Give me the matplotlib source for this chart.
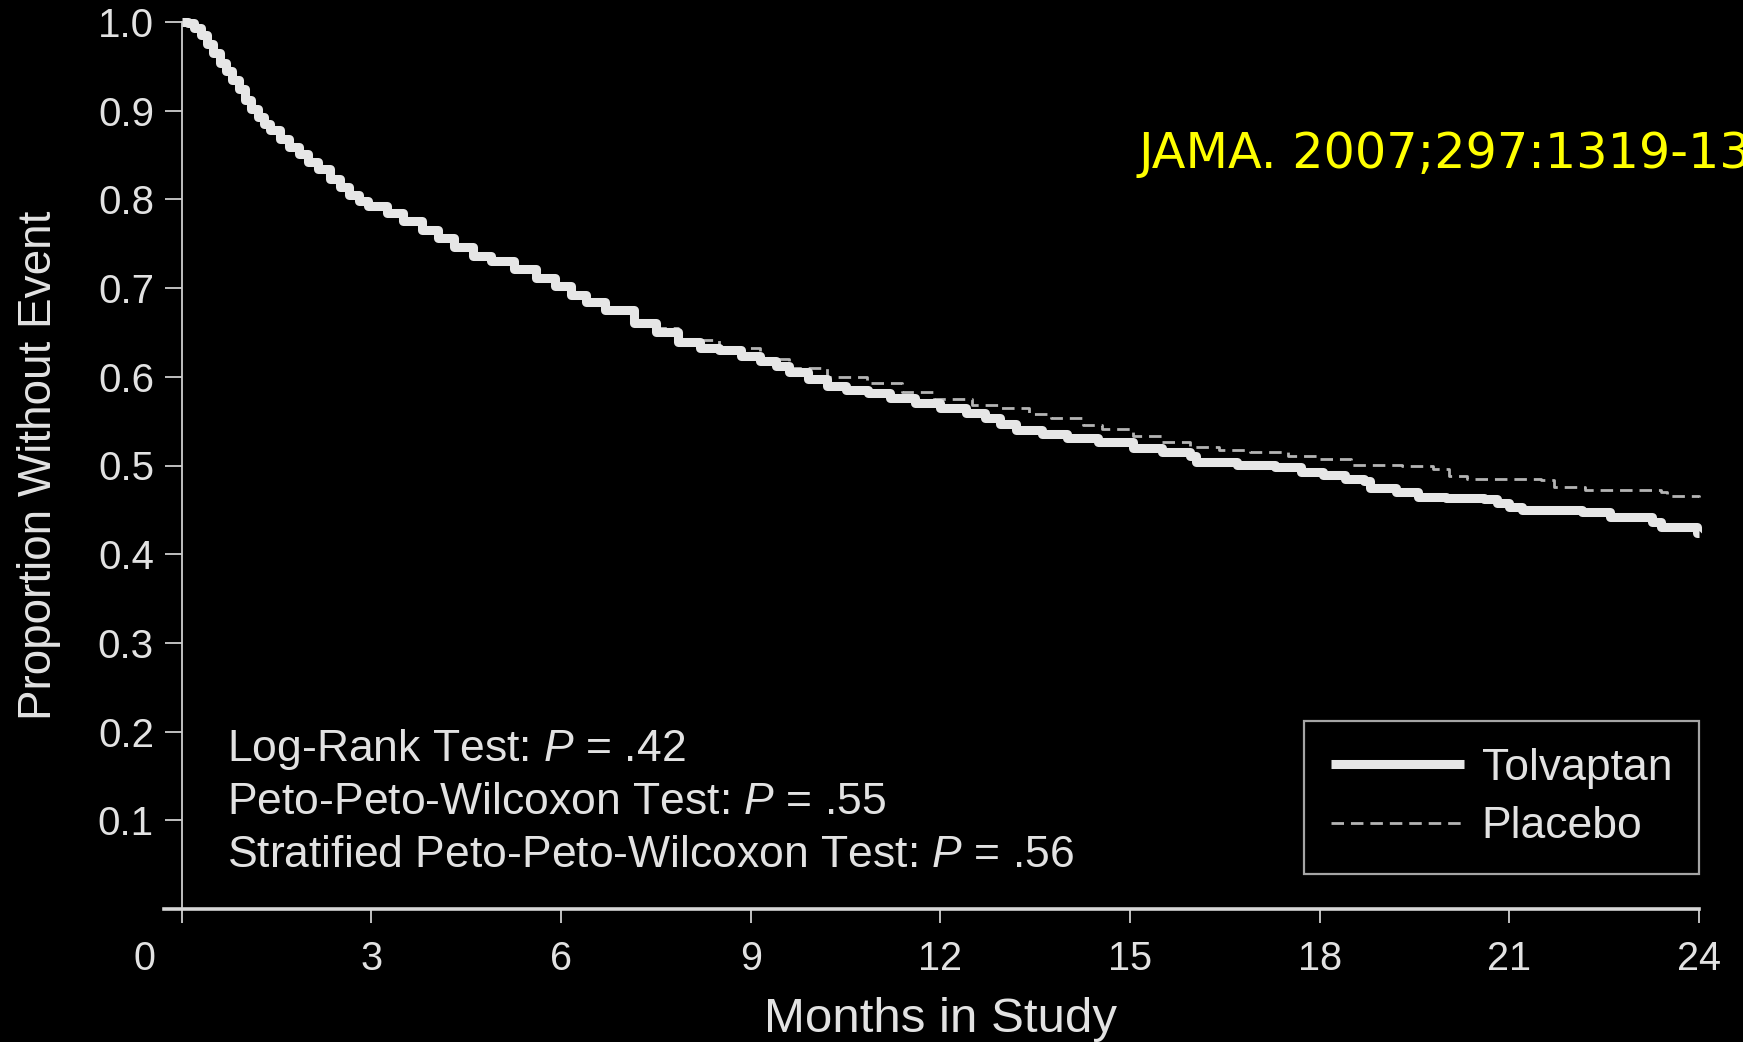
import matplotlib
matplotlib.use("Agg")
import matplotlib.pyplot as plt
import matplotlib.transforms as mtransforms

# ---- Kaplan-Meier estimates (months, proportion without event)
tolvaptan_months = [
    0.00, 0.10, 0.20, 0.30, 0.40, 0.50, 0.60, 0.70, 0.80, 0.90, 1.00, 1.10,
    1.20, 1.30, 1.40, 1.55, 1.70, 1.85, 2.00, 2.15, 2.35, 2.50, 2.65, 2.80,
    2.95, 3.25, 3.50, 3.80, 4.05, 4.30, 4.60, 4.90, 5.25, 5.60, 5.90, 6.15,
    6.40, 6.70, 7.15, 7.50, 7.85, 8.20, 8.50, 8.85, 9.15, 9.40, 9.60, 9.90,
    10.20, 10.50, 10.85, 11.20, 11.60, 12.00, 12.40, 12.70, 12.95, 13.20,
    13.60, 14.00, 14.50, 15.05, 15.50, 15.95, 16.05, 16.70, 17.30, 17.70,
    18.05, 18.40, 18.70, 18.80, 19.20, 19.55, 20.00, 20.60, 20.80, 21.00,
    21.20, 22.15, 22.60, 23.25, 23.40, 23.97, 24.00,
]
tolvaptan_surv = [
    1.000, 0.999, 0.993, 0.985, 0.975, 0.965, 0.954, 0.945, 0.935, 0.925, 0.912, 0.902,
    0.893, 0.885, 0.878, 0.868, 0.859, 0.851, 0.842, 0.834, 0.823, 0.814, 0.805, 0.798,
    0.792, 0.785, 0.776, 0.765, 0.756, 0.746, 0.736, 0.731, 0.722, 0.711, 0.702, 0.692,
    0.684, 0.675, 0.661, 0.650, 0.639, 0.633, 0.630, 0.624, 0.618, 0.612, 0.605, 0.597,
    0.590, 0.585, 0.582, 0.576, 0.570, 0.565, 0.559, 0.553, 0.547, 0.540,
    0.535, 0.531, 0.526, 0.520, 0.515, 0.511, 0.504, 0.501, 0.498, 0.493,
    0.489, 0.485, 0.483, 0.475, 0.470, 0.465, 0.463, 0.462, 0.458, 0.453,
    0.450, 0.448, 0.442, 0.436, 0.431, 0.424, 0.424,
]

placebo_months = [
    0.00, 0.10, 0.20, 0.30, 0.40, 0.50, 0.60, 0.70, 0.80, 0.90, 1.00, 1.10,
    1.20, 1.30, 1.40, 1.55, 1.70, 1.85, 2.00, 2.15, 2.35, 2.50, 2.65, 2.80,
    2.95, 3.25, 3.50, 3.80, 4.05, 4.30, 4.60, 4.90, 5.25, 5.60, 5.90, 6.15,
    6.40, 6.70, 7.15, 7.50, 7.85, 8.50, 9.15, 9.60, 10.20, 10.84, 11.40,
    11.90, 12.50, 12.95, 13.40, 13.75, 14.25, 14.55, 15.05, 15.50, 15.95,
    16.40, 16.90, 17.50, 17.95, 18.50, 19.30, 19.80, 20.05, 20.33, 21.50,
    21.70, 22.20, 23.40, 23.50, 24.00,
]
placebo_surv = [
    1.000, 0.999, 0.993, 0.985, 0.975, 0.965, 0.954, 0.945, 0.935, 0.925, 0.912, 0.902,
    0.893, 0.885, 0.878, 0.868, 0.859, 0.851, 0.842, 0.834, 0.823, 0.814, 0.805, 0.798,
    0.792, 0.785, 0.776, 0.765, 0.756, 0.746, 0.736, 0.731, 0.722, 0.711, 0.702, 0.692,
    0.684, 0.676, 0.664, 0.655, 0.642, 0.632, 0.620, 0.610, 0.600, 0.593, 0.583,
    0.575, 0.568, 0.565, 0.558, 0.553, 0.546, 0.541, 0.533, 0.527, 0.521,
    0.518, 0.515, 0.511, 0.507, 0.501, 0.499, 0.496, 0.488, 0.485, 0.484,
    0.476, 0.472, 0.470, 0.466, 0.465,
]

x_ticks = [0, 3, 6, 9, 12, 15, 18, 21, 24]
y_ticks = [0.1, 0.2, 0.3, 0.4, 0.5, 0.6, 0.7, 0.8, 0.9, 1.0]

test_lines = [
    ("Log-Rank Test: ", ".42"),
    ("Peto-Peto-Wilcoxon Test: ", ".55"),
    ("Stratified Peto-Peto-Wilcoxon Test: ", ".56"),
]

# ---- style
FG = "#e2e2e2"
plt.rcParams["font.family"] = ["Liberation Sans", "DejaVu Sans"]
plt.rcParams["mathtext.fontset"] = "custom"
plt.rcParams["mathtext.rm"] = "Liberation Sans"
plt.rcParams["mathtext.it"] = "Liberation Sans:italic"

fig = plt.figure(figsize=(17.43, 10.42), dpi=100, facecolor="black")
ax = fig.add_axes([164 / 1743, 133 / 1042, 1535 / 1743, 887 / 1042])
ax.set_facecolor("black")

ax.plot(tolvaptan_months, tolvaptan_surv, drawstyle="steps-post",
        color="#e6e6e6", lw=6.5, solid_capstyle="butt", clip_on=False,
        label="Tolvaptan", zorder=3)
ax.plot(placebo_months, placebo_surv, drawstyle="steps-post",
        color="#b4b4b4", lw=2, dashes=(4.5, 2.5), clip_on=False,
        label="Placebo", zorder=2)

ax.set_xlim(-0.28, 24)
ax.set_ylim(0, 1.0)

# axes: y axis sits at month 0, x axis runs slightly past it
for s in ("top", "right"):
    ax.spines[s].set_visible(False)
ax.spines["left"].set_position(("data", 0))
ax.spines["left"].set_color("#cfcfcf")
ax.spines["left"].set_linewidth(1.3)
ax.spines["bottom"].set_color("#d6d6d6")
ax.spines["bottom"].set_linewidth(2.6)

ax.set_xticks(x_ticks)
ax.set_xticklabels([""] + [str(t) for t in x_ticks[1:]])
ax.set_yticks(y_ticks)
ax.set_yticklabels([f"{t:.1f}" for t in y_ticks])
ax.tick_params(axis="x", colors="#cfcfcf", length=10, width=1.3,
               labelsize=28.5, labelcolor=FG, pad=12)
ax.tick_params(axis="y", colors="#cfcfcf", length=12, width=1.3,
               labelsize=29, labelcolor=FG, pad=8)

# origin label shared by both axes
origin_tr = mtransforms.blended_transform_factory(ax.transData, ax.transAxes)
ax.text(-0.59, -0.035, "0", transform=origin_tr,
        color=FG, fontsize=28.5, ha="center", va="top")

ax.set_xlabel("Months in Study", fontsize=35.5, color=FG)
ax.xaxis.set_label_coords(0.506, -0.099)
ax.set_ylabel("Proportion Without Event", fontsize=33, color=FG)
ax.yaxis.set_label_coords(-0.067, 0.5)

# test statistics
for i, (name, p) in enumerate(test_lines):
    ax.text(0.041, 0.167 - i * 0.06, name + r"$P$" + " = " + p,
            transform=ax.transAxes, fontsize=32, color=FG, va="baseline")

leg = ax.legend(loc="upper right", bbox_to_anchor=(1.0, 0.212),
                borderaxespad=0, fontsize=32, frameon=True, fancybox=False,
                handlelength=3.0, handletextpad=0.4, borderpad=0.6,
                labelspacing=0.4)
leg.get_frame().set_facecolor("black")
leg.get_frame().set_edgecolor("#cfcfcf")
leg.get_frame().set_linewidth(1.6)
for t in leg.get_texts():
    t.set_color(FG)

fig.text(1138 / 1743, 1 - 168 / 1042, "JAMA. 2007;297:1319-1331",
         color="#ffff00", fontsize=35.5, family="DejaVu Sans", va="baseline")

fig.savefig("out.png", dpi=100, facecolor="black")
